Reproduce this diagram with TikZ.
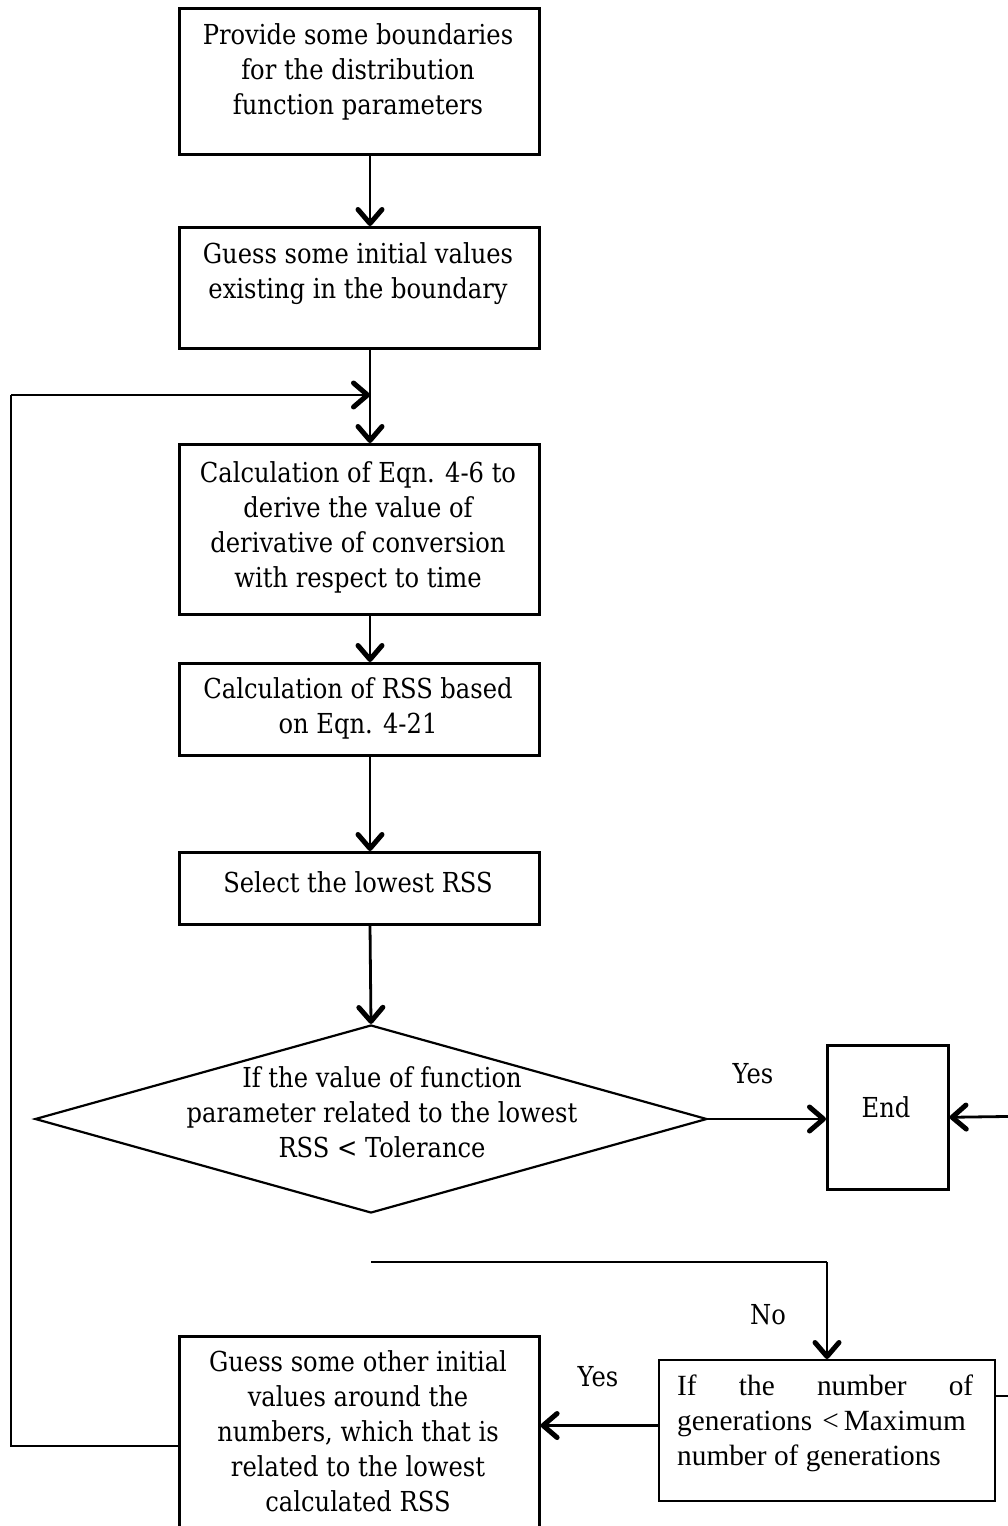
\documentclass[tikz,border=0pt]{standalone}
\usepackage{fontspec}
\setmainfont{DejaVu Serif}[FakeStretch=0.88]
\newfontfamily\timesfont{Liberation Serif}
\usetikzlibrary{arrows.meta,shapes.geometric}

\begin{document}
\begin{tikzpicture}[x=1pt,y=-1pt,
  stepbox/.style={draw, line width=2.6pt, minimum width=360pt, inner sep=0pt, anchor=north west},
  steptext/.style={align=center, inner sep=0pt, font=\fontsize{27.5}{35}\selectfont},
  flow/.style={line width=2.8pt, -{Straight Barb[length=14pt,width=24pt,line width=5pt,round]}},
  thinline/.style={line width=1.8pt},
  loopline/.style={line width=2.2pt},
]
\useasboundingbox (0,0) rectangle (1008,1526);
\clip (0,0) rectangle (1008,1526);

% vertical axis of the main flow
\coordinate (axis) at (370,0);

% process boxes
\node[stepbox, minimum height=146pt] (b1) at (178,7) {};
\node[stepbox, minimum height=121pt] (b2) at (178,226) {};
\node[stepbox, minimum height=170pt] (b3) at (178,443) {};
\node[stepbox, minimum height=92pt]  (b4) at (178,662) {};
\node[stepbox, minimum height=72pt]  (b5) at (178,851) {};
\node[stepbox, minimum height=220pt] (b6) at (178,1335) {};
\node[stepbox, line width=2pt, minimum width=336pt, minimum height=141pt] (b7) at (658,1359) {};
\node[stepbox, minimum width=121pt, minimum height=144pt] (end) at (826,1044) {};

% decision
\node[draw, diamond, line width=2.2pt, minimum width=672pt, minimum height=188pt, inner sep=0pt] (dec) at (371,1119) {};

% texts
\node[steptext] (t1) at (358,72) {Provide some boundaries\\for the distribution\\function parameters};
\node[steptext] (t2) at (358,274) {Guess some initial values\\existing in the boundary};
\node[steptext] (t3) at (358,527) {Calculation of Eqn. 4-6 to\\derive the value of\\derivative of conversion\\with respect to time};
\node[steptext] (t4) at (358,708) {Calculation of RSS based\\on Eqn. 4-21};
\node[steptext] (t5) at (358,882) {Select the lowest RSS};
\node[steptext] (t6) at (358,1431) {Guess some other initial\\values around the\\numbers, which that is\\related to the lowest\\calculated RSS};
\node[steptext] (td) at (382,1112) {If the value of function\\parameter related to the lowest\\RSS < Tolerance};
\node[steptext] (tend) at (886,1107) {End};
\node[align=left, inner sep=0pt, anchor=west, font=\timesfont\fontsize{29.3}{35}\selectfont] (t7) at (677,1423)
  {\makebox[296pt][s]{If the number of}\\generations\hspace{10pt}<\hspace{5pt}Maximum\\number of generations};

% branch labels
\node[steptext] (yes1) at (753,1074) {Yes};
\node[steptext] (yes2) at (598,1377) {Yes};
\node[steptext] (no)   at (768,1315) {No};

% main flow
\draw[flow] (b1.south -| axis) -- (b2.north -| axis);
\draw[flow] (b2.south -| axis) -- (b3.north -| axis);
\draw[flow] (b3.south -| axis) -- (b4.north -| axis);
\draw[flow] (b4.south -| axis) -- (b5.north -| axis);
\draw[flow] (b5.south -| axis) -- (dec.north);
\draw[flow] (dec.east) -- (dec.east -| end.west);

% "No" branch towards the generation check
\coordinate (nostart) at (371,1262);
\draw[thinline] (nostart) -- (nostart -| b7.north);
\draw[flow] (nostart -| b7.north) -- (b7.north);

% "Yes" branch back to a new guess
\draw[flow] ([yshift=5pt]b7.west) -- ([yshift=5pt]b7.west -| b6.east);

% loop back to the calculation step
\coordinate (loopcorner) at (11,395);
\coordinate (loopjoin) at (370,395);
\draw[loopline] (b6.west) -| (loopcorner);
\draw[flow, line width=2.2pt] (loopcorner) -- (loopjoin);

% connection leaving on the right into End
\coordinate (rout) at (1040,1396);
\coordinate (rin) at (1040,1116);
\draw[thinline] (b7.east |- rout) -- (rout);
\draw[flow] (rin) -- (end.east);
\end{tikzpicture}
\end{document}
